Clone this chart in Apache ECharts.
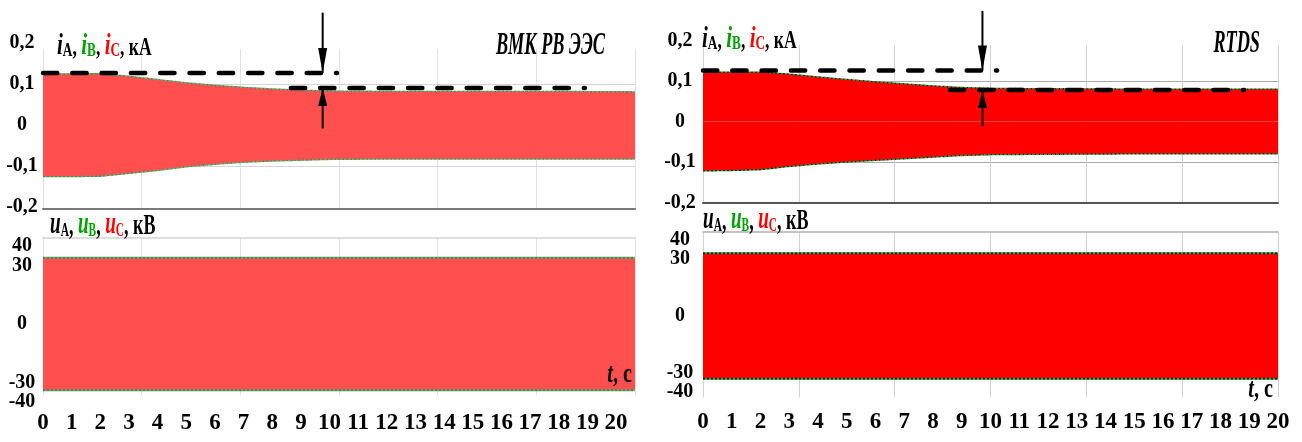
<!DOCTYPE html>
<html><head><meta charset="utf-8">
<script src="https://cdn.jsdelivr.net/npm/echarts@6/dist/echarts.min.js"></script>
<style>html,body{margin:0;padding:0;background:#fff}#c{width:1302px;height:442px}</style>
</head><body><div id="c"></div><script>
// ---- tick labels ----
const curTicks = [-0.2, -0.1, 0, 0.1, 0.2];
const curTickLabels = ['-0,2', '-0,1', '0', '0,1', '0,2'];
const voltTicks = [-40, -30, 0, 30, 40];
const voltTickLabels = ['-40', '-30', '0', '30', '40'];
const timeTicks = [0,1,2,3,4,5,6,7,8,9,10,11,12,13,14,15,16,17,18,19,20];

// ---- left panel: ВМК РВ ЭЭС ----
const tCurL   = [0, 1, 2, 3, 4, 5, 6, 7, 8, 9, 10, 12, 15, 18, 20.66];
const iUpperL = [0.124, 0.125, 0.125, 0.119, 0.111, 0.103, 0.097, 0.092, 0.088, 0.085, 0.083, 0.082, 0.082, 0.082, 0.081];
const iLowerL = [-0.126, -0.126, -0.125, -0.118, -0.111, -0.102, -0.096, -0.091, -0.088, -0.086, -0.084, -0.083, -0.083, -0.083, -0.083];
const tVoltL  = [0, 5, 10, 15, 20.66];
const uUpperL = [34, 34, 34, 34, 34];
const uLowerL = [-34, -34, -34, -34, -34];
const levelsL = [0.127, 0.090];          // dashed reference levels, кА
const span1L  = [0, 10.26];              // time span of first dashed line, s
const span2L  = [8.65, 18.91];           // time span of second dashed line, s
const arrowTL = 9.76;                    // arrow time, s
const arrowEndsL = [0.274, -0.0085];     // outer ends of the arrows, кА

// ---- right panel: RTDS ----
const tCurR   = [0, 1, 2, 3, 4, 5, 6, 7, 8, 9, 10, 12, 15, 18, 20];
const iUpperR = [0.122, 0.122, 0.122, 0.117, 0.110, 0.104, 0.098, 0.093, 0.088, 0.084, 0.082, 0.081, 0.080, 0.080, 0.080];
const iLowerR = [-0.122, -0.121, -0.119, -0.111, -0.105, -0.100, -0.096, -0.092, -0.088, -0.084, -0.082, -0.081, -0.080, -0.080, -0.080];
const tVoltR  = [0, 5, 10, 15, 20];
const uUpperR = [33, 33, 33, 33, 33];
const uLowerR = [-33, -33, -33, -33, -33];
const levelsR = [0.126, 0.078];
const span1R  = [0, 10.23];
const span2R  = [8.59, 18.82];
const arrowTR = 9.72;
const arrowEndsR = [0.273, -0.012];

const FONT = 'Liberation Serif';
const zip = (a, b) => a.map((v, i) => [v, b[i]]);
const pick = (ticks, labels) => v => {
  for (let i = 0; i < ticks.length; i++) if (Math.abs(ticks[i] - v) < 1e-6) return labels[i];
  return '';
};

const grids = [], xAxes = [], yAxes = [], extraY = [], series = [];

function band(ax, t, vals, P, lw) {
  series.push({type: 'line', xAxisIndex: ax, yAxisIndex: ax, data: zip(t, vals), symbol: 'none', silent: true,
    lineStyle: {color: P.edgeA, width: lw, type: [2, 2]}, areaStyle: {color: P.fill, opacity: 1}, z: 2});
  series.push({type: 'line', xAxisIndex: ax, yAxisIndex: ax, data: zip(t, vals), symbol: 'none', silent: true,
    lineStyle: {color: P.edgeB, width: lw, type: [2, 2], dashOffset: 2}, z: 3});
}

function addPanel(P, D) {
  const b = grids.length;
  grids.push({left: P.left, top: P.curTop, width: P.width, height: 246});
  grids.push({left: P.left, top: P.curHTop, width: P.width, height: P.curHH});
  grids.push({left: P.left, top: P.voltTop, width: P.width, height: P.voltH});
  grids.push({left: P.left, top: P.voltHTop, width: P.width, height: P.voltHH});

  const lab = {fontFamily: FONT, fontWeight: 'bold', color: '#000'};
  xAxes.push({gridIndex: b, type: 'value', min: 0, max: P.xMax, show: false});
  xAxes.push({gridIndex: b + 1, type: 'value', min: 0, max: 6, interval: 1, position: 'bottom',
    axisLine: {show: true, onZero: false, lineStyle: {color: P.axisColor, width: 2}},
    axisTick: {show: false}, axisLabel: {show: false},
    splitLine: {show: true, lineStyle: {color: P.vGrid, width: 1}}});
  xAxes.push({gridIndex: b + 2, type: 'value', min: 0, max: P.xMax, interval: 1,
    axisLine: {show: false}, axisTick: {show: false}, splitLine: {show: false},
    axisLabel: Object.assign({fontSize: 23, margin: P.xLabMargin, showMinLabel: true, showMaxLabel: P.showMax,
      formatter: pick(timeTicks, timeTicks.map(String))}, lab)});
  xAxes.push({gridIndex: b + 3, type: 'value', min: 0, max: 6, interval: 1, position: 'top',
    axisLine: {show: true, onZero: false, lineStyle: {color: P.topLine, width: 1.5}},
    axisTick: {show: false}, axisLabel: {show: false},
    splitLine: {show: true, lineStyle: {color: P.vGrid, width: 1}}});

  yAxes.push({gridIndex: b, type: 'value', min: -0.3, max: 0.3, interval: 0.1,
    axisLine: {show: false}, axisTick: {show: false},
    axisLabel: Object.assign({fontSize: 20, align: 'center', margin: P.yLabMargin,
      formatter: pick(curTicks, curTickLabels)}, lab),
    splitLine: {show: true, lineStyle: {width: 1.2,
      color: ['transparent', 'transparent', P.hGrid, 'transparent', P.hGrid, 'transparent', 'transparent']}}});
  yAxes.push({gridIndex: b + 1, type: 'value', min: 0, max: 1, show: false});
  // voltage axis: ticks at -40, 0, 40
  yAxes.push({gridIndex: b + 2, type: 'value', min: -40, max: 40, interval: 40, position: 'left',
    axisLine: {show: false}, axisTick: {show: false}, splitLine: {show: false},
    axisLabel: Object.assign({fontSize: 20, align: 'center', margin: P.yLabMargin,
      showMinLabel: true, showMaxLabel: true, formatter: pick(voltTicks, voltTickLabels)}, lab)});
  yAxes.push({gridIndex: b + 3, type: 'value', min: 0, max: 1, show: false});
  // same voltage scale, carrying the ±30 labels
  extraY.push({gridIndex: b + 2, type: 'value', min: -40, max: 40, interval: 10, position: 'left', offset: 0,
    axisLine: {show: false}, axisTick: {show: false}, splitLine: {show: false},
    axisLabel: Object.assign({fontSize: 20, align: 'center', margin: P.yLabMargin,
      showMinLabel: false, showMaxLabel: false,
      formatter: v => (Math.abs(Math.abs(v) - 30) < 1e-6 ? pick(voltTicks, voltTickLabels)(v) : '')}, lab)});

  band(b, D.tCur, D.iUp, P, 1.3);
  band(b, D.tCur, D.iLo, P, 1.3);
  band(b + 2, D.tVolt, D.uUp, P, 2);
  band(b + 2, D.tVolt, D.uLo, P, 2);

  const dash = {color: '#000', width: 4.5, type: [14.3, 15], cap: 'round'};
  series.push({type: 'line', xAxisIndex: b, yAxisIndex: b, symbol: 'none', silent: true, z: 5,
    data: [[D.span1[0], D.levels[0]], [D.span1[1], D.levels[0]]], lineStyle: dash});
  series.push({type: 'line', xAxisIndex: b, yAxisIndex: b, symbol: 'none', silent: true, z: 5,
    data: [[D.span2[0], D.levels[1]], [D.span2[1], D.levels[1]]], lineStyle: dash});
  series.push({type: 'line', xAxisIndex: b, yAxisIndex: b, symbol: 'none', silent: true, z: 6, clip: false,
    lineStyle: {color: '#000', width: 2}, itemStyle: {color: '#000'},
    data: [{value: [D.arrowT, D.arrowEnds[0]]},
           {value: [D.arrowT, D.levels[0]], symbol: 'triangle', symbolSize: [9, 25], symbolRotate: 180, symbolOffset: [0, -12.5]}]});
  series.push({type: 'line', xAxisIndex: b, yAxisIndex: b, symbol: 'none', silent: true, z: 6, clip: false,
    lineStyle: {color: '#000', width: 2}, itemStyle: {color: '#000'},
    data: [{value: [D.arrowT, D.arrowEnds[1]]},
           {value: [D.arrowT, D.levels[1]], symbol: 'triangle', symbolSize: [9, 18], symbolOffset: [0, 9]}]});
}

addPanel({left: 43, width: 592, xMax: 20.66, showMax: false, curTop: 2, curHTop: 49, curHH: 160,
  voltTop: 246, voltH: 156, voltHTop: 238, voltHH: 157, yLabMargin: 21, xLabMargin: 10,
  fill: '#ff4f4f', edgeA: '#6e6e6e', edgeB: '#4cc04c', vGrid: '#e0e0e0', hGrid: '#d6d6d6',
  axisColor: '#7a7a7a', topLine: '#d4d4d4'},
  {tCur: tCurL, iUp: iUpperL, iLo: iLowerL, tVolt: tVoltL, uUp: uUpperL, uLo: uLowerL,
   levels: levelsL, span1: span1L, span2: span2L, arrowT: arrowTL, arrowEnds: arrowEndsL});

addPanel({left: 703, width: 575, xMax: 20, showMax: true, curTop: -3, curHTop: 45, curHH: 158,
  voltTop: 240, voltH: 152, voltHTop: 232, voltHH: 165, yLabMargin: 23, xLabMargin: 19,
  fill: '#ff0000', edgeA: '#1e1e1e', edgeB: '#1f9f1f', vGrid: '#d2d2d2', hGrid: '#acacac',
  axisColor: '#555555', topLine: '#b0b0b0'},
  {tCur: tCurR, iUp: iUpperR, iLo: iLowerR, tVolt: tVoltR, uUp: uUpperR, uLo: uLowerR,
   levels: levelsR, span1: span1R, span2: span2R, arrowT: arrowTR, arrowEnds: arrowEndsR});

// ---- text annotations ----
function legend(x, y, letter, unit, fm, fp, fs, sx) {
  const L = 36, K = 0.3375;
  const d = L / 2 - K * fm;
  const lhFor = (f, off) => 2 * (off + K * f);
  const f = (st, sz) => st + ' bold ' + sz + 'px "' + FONT + '"';
  const main = c => ({font: f('italic', fm), fill: c, lineHeight: L, verticalAlign: 'bottom'});
  const sub = c => ({font: f('normal', fs), fill: c, lineHeight: lhFor(fs, d - 5), verticalAlign: 'bottom'});
  const plain = {font: f('normal', fp), fill: '#000', lineHeight: lhFor(fp, d), verticalAlign: 'bottom'};
  return {type: 'text', x: x, y: y, scaleX: sx, z: 20, silent: true,
    style: {text: '{a|' + letter + '}{sa|A}{p|, }{b|' + letter + '}{sb|B}{p|, }{c|' + letter + '}{sc|C}{p|, ' + unit + '}',
      align: 'left', verticalAlign: 'top', textAlign: 'left', textVerticalAlign: 'top',
      rich: {a: main('#000'), sa: sub('#000'), b: main('#00a000'), sb: sub('#00a000'),
             c: main('#ff0000'), sc: sub('#ff0000'), p: plain}}};
}
function tlabel(x, y) {
  return {type: 'text', x: x, y: y, scaleX: 0.72, z: 20, silent: true,
    style: {text: '{t|t}{c|, c}', align: 'right', textAlign: 'right', verticalAlign: 'middle', textVerticalAlign: 'middle',
      rich: {t: {font: 'italic bold 28px "' + FONT + '"', fill: '#000'}, c: {font: 'bold 28px "' + FONT + '"', fill: '#000'}}}};
}
function title(x, y, txt) {
  return {type: 'text', x: x, y: y, scaleX: 0.57, z: 20, silent: true,
    style: {text: txt, font: 'italic bold 32px "' + FONT + '"', fill: '#000',
      align: 'right', textAlign: 'right', verticalAlign: 'middle', textVerticalAlign: 'middle'}};
}

const graphic = [
  legend(57, 25, 'i', 'кА', 30, 25, 19, 0.7),
  legend(702, 18, 'i', 'кА', 30, 25, 19, 0.7),
  legend(50, 205, 'u', 'кВ', 32, 30, 19, 0.6),
  legend(703, 200, 'u', 'кВ', 32, 30, 19, 0.6),
  title(605, 46, 'ВМК РВ ЭЭС'),
  title(1260, 44, 'RTDS'),
  tlabel(632, 375),
  tlabel(1273, 390)
];

const chart = echarts.init(document.getElementById('c'));
chart.setOption({animation: false, grid: grids, xAxis: xAxes, yAxis: yAxes.concat(extraY), series: series, graphic: graphic});
</script></body></html>
